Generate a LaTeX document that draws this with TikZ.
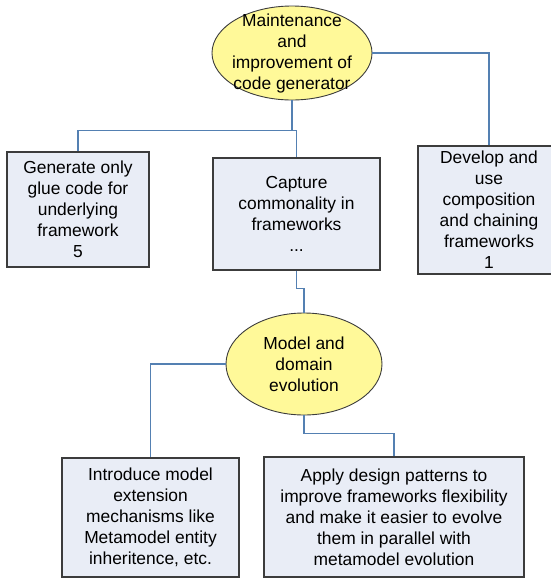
\documentclass[tikz,border=0pt]{standalone}
\usepackage{fontspec}
\setmainfont{Liberation Sans}
\usetikzlibrary{shapes.geometric}

\definecolor{topicfill}{RGB}{255,249,153}
\definecolor{taskfill}{RGB}{233,237,246}
\definecolor{linkblue}{RGB}{84,128,178}
\definecolor{edgegray}{RGB}{60,60,60}

\begin{document}
\begin{tikzpicture}
	[
		x=1pt, y=-1pt,
		every node/.style={font=\fontsize{17.4}{21}\selectfont, align=center, text=black},
		topic/.style={ellipse, draw=edgegray, fill=topicfill, line width=0.9pt, inner sep=-30pt},
		task/.style={rectangle, draw=edgegray, fill=taskfill, line width=1.4pt, inner sep=0pt},
		link/.style={draw=linkblue, line width=1.3pt}
	]
	\useasboundingbox (0,0) rectangle (551,579);

	% goals
	\node(mnt)[topic, minimum width=160pt, minimum height=94pt] at (292,53) {Maintenance\\and\\improvement of\\code generator};
	\node(evo)[topic, minimum width=156pt, minimum height=102pt] at (304,364) {Model and\\domain\\evolution};

	% tasks
	\node(glue)[task, minimum width=142pt, minimum height=115pt] at (78,209.5) {Generate only\\glue code for\\underlying\\framework\\5};
	\node(cap)[task, minimum width=167pt, minimum height=112pt] at (296.5,214) {Capture\\commonality in\\frameworks\\...};
	\node(chain)[task, minimum width=142pt, minimum height=128pt] at (489,210) {Develop and\\use\\composition\\and chaining\\frameworks\\1};
	\node(ext)[task, minimum width=177pt, minimum height=119pt] at (150.5,517.5) {Introduce model\\extension\\mechanisms like\\Metamodel entity\\inheritence, etc.};
	\node(pat)[task, minimum width=260pt, minimum height=120pt] at (394,517) {Apply design patterns to\\improve frameworks flexibility\\and make it easier to evolve\\them in parallel with\\metamodel evolution};

	% connectors
	\path[link] (mnt.south) -- ++(0,30) -| (glue.north);
	\path[link] (mnt.south) -- ++(0,30) -| (cap.north);
	\path[link] (mnt.east) -| (chain.north);
	\path[link] (cap.south) -- ++(0,18) -| (evo.north);
	\path[link] (evo.west) -| (ext.north);
	\path[link] (evo.south) -- ++(0,18) -| (pat.north);
\end{tikzpicture}
\end{document}
